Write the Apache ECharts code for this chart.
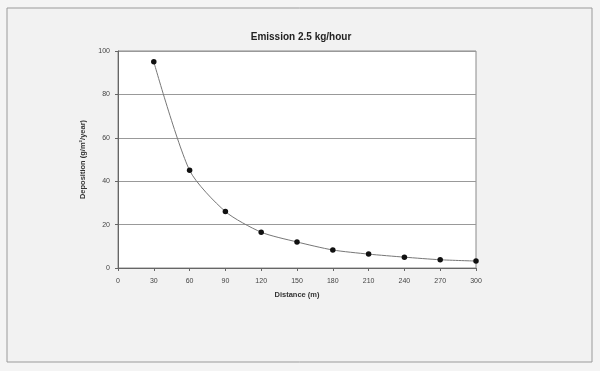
<!DOCTYPE html>
<html><head><meta charset="utf-8">
<script src="https://cdn.jsdelivr.net/npm/echarts@6/dist/echarts.min.js"></script>
<style>html,body{margin:0;padding:0;background:#f4f4f4}#c{width:600px;height:371px}</style>
</head><body><div id="c"></div>
<script>
const distances = [30, 60, 90, 120, 150, 180, 210, 240, 270, 300];
const deposition = [95, 45, 26, 16.5, 12, 8.3, 6.4, 5, 3.8, 3.2];
const titleText = "Emission 2.5 kg/hour";
const xName = "Distance (m)";
const yName = "Deposition (g/m\u00B2/year)";

const chart = echarts.init(document.getElementById('c'));
chart.setOption({
  backgroundColor: '#f4f4f4',
  animation: false,
  graphic: [{
    type: 'rect', shape: {x: 7, y: 8, width: 585, height: 354},
    style: {fill: '#f2f2f2', stroke: '#9a9a9a', lineWidth: 1}, z: -10
  }],
  title: {
    text: titleText, left: 296, top: 27, textAlign: 'center',
    textStyle: {fontFamily: 'Liberation Sans', fontSize: 10, fontWeight: 'bold', color: '#222'}
  },
  grid: {left: 118, right: 124, top: 51, bottom: 103, show: true,
         backgroundColor: '#fff', borderColor: '#8a8a8a', borderWidth: 1},
  xAxis: {
    type: 'value', min: 0, max: 300, interval: 30,
    name: xName, nameLocation: 'middle', nameGap: 23,
    nameTextStyle: {fontFamily: 'Liberation Sans', fontSize: 7.5, fontWeight: 'bold', color: '#333'},
    axisLine: {lineStyle: {color: '#666'}},
    axisTick: {show: true, length: 3, lineStyle: {color: '#666'}},
    axisLabel: {fontFamily: 'Liberation Sans', fontSize: 7, color: '#444', margin: 10},
    splitLine: {show: false}
  },
  yAxis: {
    type: 'value', min: 0, max: 100, interval: 20,
    name: yName, nameLocation: 'middle', nameGap: 30, nameRotate: 90,
    nameTextStyle: {fontFamily: 'Liberation Sans', fontSize: 7.5, fontWeight: 'bold', color: '#333'},
    axisLine: {show: true, lineStyle: {color: '#666'}},
    axisTick: {show: true, length: 3, lineStyle: {color: '#666'}},
    axisLabel: {fontFamily: 'Liberation Sans', fontSize: 7, color: '#444', margin: 8},
    splitLine: {show: true, lineStyle: {color: '#999', width: 1}}
  },
  series: [{
    type: 'line', data: distances.map((d, i) => [d, deposition[i]]),
    smooth: 0.25,
    symbol: 'circle', symbolSize: 5.5,
    itemStyle: {color: '#111'},
    lineStyle: {color: '#777', width: 1}
  }]
});
</script></body></html>
